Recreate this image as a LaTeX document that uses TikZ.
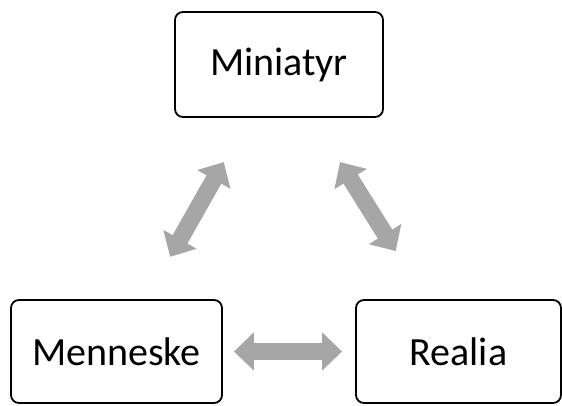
\documentclass[tikz,border=0pt]{standalone}
\usepackage{fontspec}
\setmainfont{Carlito}
\definecolor{arrowgray}{HTML}{A6A6A6}
\usepackage{tikz}
\usetikzlibrary{arrows.meta, calc}

\begin{document}
\begin{tikzpicture}[x=1pt, y=1pt,
    conceptbox/.style={draw=black, line width=1.8pt, rounded corners=8pt,
      fill=white, inner sep=0pt, font=\fontsize{40}{48}\selectfont},
    linkarrow/.style={draw=arrowgray, line width=17pt,
      {Triangle[width=37pt, length=20pt]}-{Triangle[width=37pt, length=20pt]}}]
        \useasboundingbox (0,0) rectangle (562,405);
        % Boxes
        \node[conceptbox, minimum width=208pt, minimum height=105pt]
          (mini) at (279, 340.5) {Miniatyr};
        \node[conceptbox, minimum width=211pt, minimum height=103pt]
          (men) at (116.5, 53.5) {Menneske};
        \node[conceptbox, minimum width=205pt, minimum height=103pt]
          (rea) at (458.5, 53.5) {Realia};
        % Arrows
        \draw[linkarrow] ($(men)!0.33!(mini)$) -- ($(men)!0.66!(mini)$);
        \draw[linkarrow] ($(rea)!0.35!(mini)$) -- ($(rea)!0.66!(mini)$);
        \draw[linkarrow, shorten <=11pt, shorten >=13pt] (men) -- (rea);
      \end{tikzpicture}
\end{document}
